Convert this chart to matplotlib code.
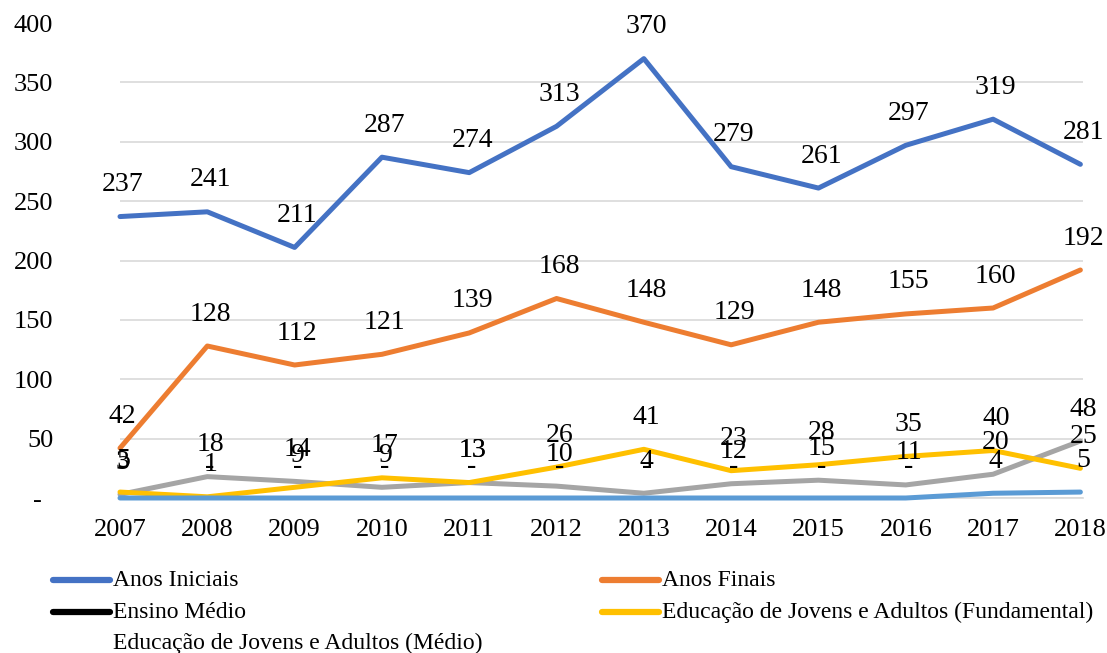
import matplotlib.pyplot as plt
from matplotlib.lines import Line2D

# Dados
anos = [2007, 2008, 2009, 2010, 2011, 2012, 2013, 2014, 2015, 2016, 2017, 2018]
anos_iniciais = [237, 241, 211, 287, 274, 313, 370, 279, 261, 297, 319, 281]
anos_finais = [42, 128, 112, 121, 139, 168, 148, 129, 148, 155, 160, 192]
ensino_medio = [3, 18, 14, 9, 13, 10, 4, 12, 15, 11, 20, 48]
eja_fundamental = [5, 1, 9, 17, 13, 26, 41, 23, 28, 35, 40, 25]
eja_medio = [0, 0, 0, 0, 0, 0, 0, 0, 0, 0, 4, 5]

y_ticks = [0, 50, 100, 150, 200, 250, 300, 350, 400]
y_labels = ['-', '50', '100', '150', '200', '250', '300', '350', '400']

series = [
    ('Anos Iniciais', anos_iniciais, '#4472C4', '#4472C4'),
    ('Anos Finais', anos_finais, '#ED7D31', '#ED7D31'),
    ('Ensino Médio', ensino_medio, '#A5A5A5', 'black'),
    ('Educação de Jovens e Adultos (Fundamental)', eja_fundamental, '#FFC000', '#FFC000'),
    ('Educação de Jovens e Adultos (Médio)', eja_medio, '#5B9BD5', None),
]

plt.rcParams['font.family'] = ['Liberation Serif', 'DejaVu Serif']

fig = plt.figure(figsize=(11.07, 6.53), dpi=100)
ax = fig.add_axes([120 / 1107, 1 - 498 / 653, 963 / 1107, 475 / 653])

for name, vals, color, _ in series:
    ax.plot(anos, vals, color=color, lw=3.6, solid_capstyle='round',
            solid_joinstyle='round', clip_on=False, zorder=3)

# rótulos de dados
for name, vals, color, _ in series:
    for x, v in zip(anos, vals):
        txt = '-' if v == 0 else str(v)
        ax.annotate(txt, (x, v), xytext=(2, 23), textcoords='offset points',
                    ha='center', va='center', fontsize=20, color='black', zorder=5)

ax.set_xlim(2007, 2018.03)
ax.set_ylim(0, 400)
ax.set_xticks(anos)
ax.set_xticklabels([str(a) for a in anos])
ax.set_yticks(y_ticks)
ax.set_yticklabels(y_labels)
ax.tick_params(axis='both', length=0, labelsize=19)
ax.tick_params(axis='y', pad=48)
ax.tick_params(axis='x', pad=15)
# o "-" do zero fica um pouco mais à esquerda, como no original
ax.get_yticklabels()[0].set_x(-0.012)
ax.grid(axis='y', color='#D9D9D9', lw=1.2, zorder=0)
ax.yaxis.get_gridlines()[-1].set_visible(False)
for s in ['top', 'right', 'left']:
    ax.spines[s].set_visible(False)
ax.spines['bottom'].set_color('#D9D9D9')
ax.spines['bottom'].set_linewidth(1.2)

# legenda manual (ordem por linhas, duas colunas)
col_x = [53, 602]
row_y = [580, 612, 643]
for i, (name, vals, color, hcolor) in enumerate(series):
    r, c = divmod(i, 2)
    x0 = col_x[c] / 1107
    y0 = 1 - row_y[r] / 653
    if hcolor is not None:
        fig.add_artist(Line2D([x0, x0 + 57 / 1107], [y0, y0], color=hcolor, lw=4.5,
                              solid_capstyle='round', transform=fig.transFigure))
    fig.text(x0 + 60 / 1107, y0, name, ha='left', va='center', fontsize=17)

fig.savefig('out.png', dpi=100)
